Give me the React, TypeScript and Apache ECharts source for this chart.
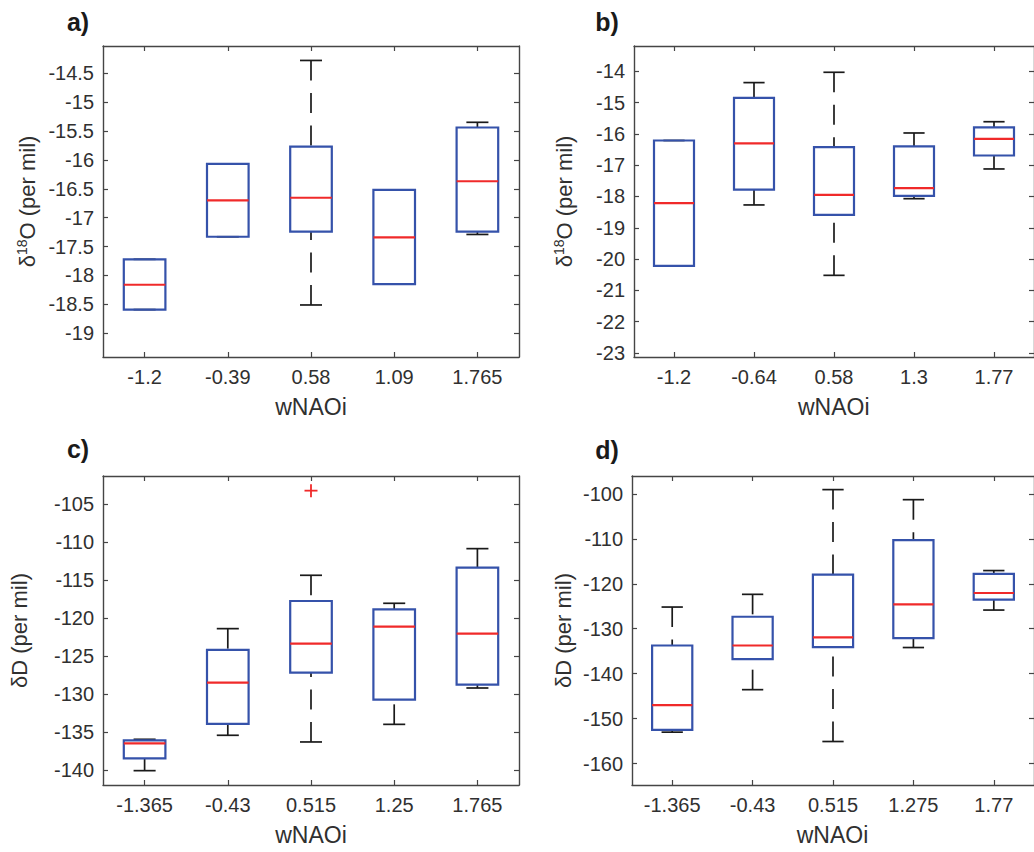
import React, { useEffect, useRef } from "react";
import * as echarts from "echarts";

// Category (x) labels per panel
const catsA = ["-1.2", "-0.39", "0.58", "1.09", "1.765"];
const catsB = ["-1.2", "-0.64", "0.58", "1.3", "1.77"];
const catsC = ["-1.365", "-0.43", "0.515", "1.25", "1.765"];
const catsD = ["-1.365", "-0.43", "0.515", "1.275", "1.77"];

// Box statistics: [lower whisker, q1, median, q3, upper whisker]
const statsA = [
  [-18.59, -18.59, -18.16, -17.72, -17.72],
  [-17.33, -17.33, -16.7, -16.07, -16.07],
  [-18.51, -17.24, -16.655, -15.77, -14.28],
  [-18.15, -18.15, -17.34, -16.52, -16.52],
  [-17.29, -17.24, -16.37, -15.44, -15.35],
];
const statsB = [
  [-20.22, -20.22, -18.21, -16.21, -16.21],
  [-18.27, -17.78, -16.3, -14.85, -14.36],
  [-20.52, -18.59, -17.95, -16.42, -14.03],
  [-18.07, -17.98, -17.73, -16.4, -15.97],
  [-17.12, -16.69, -16.16, -15.79, -15.61],
];
const statsC = [
  [-140.09, -138.47, -136.49, -136.09, -135.96],
  [-135.43, -133.94, -128.5, -124.19, -121.38],
  [-136.31, -127.18, -123.36, -117.74, -114.35],
  [-133.99, -130.74, -121.12, -118.83, -118.04],
  [-129.2, -128.76, -122.04, -113.34, -110.84],
];
const statsD = [
  [-153.02, -152.49, -146.98, -133.73, -125.17],
  [-143.56, -136.78, -133.73, -127.33, -122.34],
  [-155.1, -134.1, -131.94, -117.94, -99.03],
  [-134.18, -132.09, -124.57, -110.28, -101.27],
  [-125.84, -123.53, -122.04, -117.8, -117.05],
];
// Outliers: [category index, value]
const outliersC = [[2, -103.2]];

// Y tick values
const ticksA = [-19, -18.5, -18, -17.5, -17, -16.5, -16, -15.5, -15, -14.5];
const ticksB = [-23, -22, -21, -20, -19, -18, -17, -16, -15, -14];
const ticksC = [-140, -135, -130, -125, -120, -115, -110, -105];
const ticksD = [-160, -150, -140, -130, -120, -110, -100];

// Y ranges
const rangeA = [-19.41, -14.03];
const rangeB = [-23.13, -13.19];
const rangeC = [-141.98, -101.27];
const rangeD = [-164.78, -96.0];

const panelLabels = ["a)", "b)", "c)", "d)"];
const xTitle = "wNAOi";

const FONT = '"Liberation Sans", Arial, Helvetica, sans-serif';
const TXT = "#303030";
const AX = "#454545";
const BLUE = "#3552aa";
const RED = "#f02a2a";
const BLK = "#1a1a1a";

const grids = [
  { left: 103, top: 46, width: 416, height: 311 },
  { left: 634, top: 46, width: 403.5, height: 311 },
  { left: 103, top: 476, width: 416, height: 309 },
  { left: 632, top: 476, width: 405, height: 309 },
];

function boxRender(params: any, api: any) {
  const x = api.value(0);
  const lo = api.coord([x, api.value(1)]);
  const q1 = api.coord([x, api.value(2)]);
  const md = api.coord([x, api.value(3)]);
  const q3 = api.coord([x, api.value(4)]);
  const hi = api.coord([x, api.value(5)]);
  const band = api.size([1, 0])[0];
  const bw = band * 0.5;
  const cw = bw * 0.53;
  const cx = lo[0];
  const wStyle = { stroke: BLK, lineWidth: 1.7, lineDash: [20, 12.5], fill: null };
  const cStyle = { stroke: BLK, lineWidth: 1.7, fill: null };
  return {
    type: "group",
    children: [
      { type: "line", shape: { x1: cx, y1: hi[1], x2: cx, y2: q3[1] }, style: wStyle },
      { type: "line", shape: { x1: cx, y1: lo[1], x2: cx, y2: q1[1] }, style: wStyle },
      { type: "line", shape: { x1: cx - cw / 2, y1: hi[1], x2: cx + cw / 2, y2: hi[1] }, style: cStyle },
      { type: "line", shape: { x1: cx - cw / 2, y1: lo[1], x2: cx + cw / 2, y2: lo[1] }, style: cStyle },
      {
        type: "rect",
        shape: { x: cx - bw / 2, y: q3[1], width: bw, height: q1[1] - q3[1] },
        style: { stroke: BLUE, lineWidth: 2.2, fill: null },
      },
      { type: "line", shape: { x1: cx - bw / 2, y1: md[1], x2: cx + bw / 2, y2: md[1] }, style: { stroke: RED, lineWidth: 2.2 } },
    ],
  };
}

function outlierRender(params: any, api: any) {
  const p = api.coord([api.value(0), api.value(1)]);
  const h = 6.5;
  const st = { stroke: RED, lineWidth: 1.8 };
  return {
    type: "group",
    children: [
      { type: "line", shape: { x1: p[0] - h, y1: p[1], x2: p[0] + h, y2: p[1] }, style: st },
      { type: "line", shape: { x1: p[0], y1: p[1] - h, x2: p[0], y2: p[1] + h }, style: st },
    ],
  };
}

export default function App() {
  const ref = useRef<HTMLDivElement>(null);
  useEffect(() => {
    document.body.style.margin = "0";
    document.body.style.overflow = "hidden";
    if (!ref.current) return;
    const chart = echarts.init(ref.current, null, { renderer: "svg" });
    const cats = [catsA, catsB, catsC, catsD];
    const stats = [statsA, statsB, statsC, statsD];
    const ticks = [ticksA, ticksB, ticksC, ticksD];
    const ranges = [rangeA, rangeB, rangeC, rangeD];
    const yTitles = [
      { text: "{n|δ}{s|18}{n|O (per mil)}", x: 27 },
      { text: "{n|δ}{s|18}{n|O (per mil)}", x: 564 },
      { text: "{n|δD (per mil)}", x: 19 },
      { text: "{n|δD (per mil)}", x: 563 },
    ];
    const labelPos = [
      [78, 22],
      [607, 22],
      [78, 449],
      [607, 450],
    ];

    const axLine = { show: true, lineStyle: { color: AX, width: 1.4 } };
    const xAxes: any[] = [];
    const yAxes: any[] = [];
    const series: any[] = [];
    const graphics: any[] = [];
    for (let i = 0; i < 4; i++) {
      xAxes.push({
        type: "category",
        gridIndex: i,
        data: cats[i],
        boundaryGap: true,
        position: "bottom",
        axisLine: axLine,
        axisTick: { show: true, inside: true, alignWithLabel: true, length: 5, lineStyle: { color: AX, width: 1.2 } },
        axisLabel: { interval: 0, margin: 10, fontSize: 20, fontFamily: FONT, color: TXT },
        splitLine: { show: false },
      });
      xAxes.push({
        type: "category",
        gridIndex: i,
        data: cats[i],
        boundaryGap: true,
        position: "top",
        axisLine: axLine,
        axisTick: { show: true, inside: true, alignWithLabel: true, length: 5, lineStyle: { color: AX, width: 1.2 } },
        axisLabel: { show: false },
        splitLine: { show: false },
      });
      yAxes.push({
        type: "value",
        gridIndex: i,
        min: ranges[i][0],
        max: ranges[i][1],
        position: "left",
        axisLine: axLine,
        axisTick: { show: true, inside: true, length: 5, customValues: ticks[i], lineStyle: { color: AX, width: 1.2 } },
        axisLabel: { customValues: ticks[i], margin: 9, fontSize: 20, fontFamily: FONT, color: TXT, showMinLabel: true, showMaxLabel: true },
        splitLine: { show: false },
      });
      yAxes.push({
        type: "value",
        gridIndex: i,
        min: ranges[i][0],
        max: ranges[i][1],
        position: "right",
        axisLine: axLine,
        axisTick: { show: true, inside: true, length: 5, customValues: ticks[i], lineStyle: { color: AX, width: 1.2 } },
        axisLabel: { show: false },
        splitLine: { show: false },
      });
      series.push({
        type: "custom",
        xAxisIndex: i * 2,
        yAxisIndex: i * 2,
        renderItem: boxRender,
        data: stats[i].map((s, k) => [k, ...s]),
        z: 5,
      });
      const g = grids[i];
      graphics.push({
        type: "text",
        x: yTitles[i].x,
        y: g.top + g.height / 2,
        rotation: Math.PI / 2,
        style: {
          text: yTitles[i].text,
          align: "center",
          verticalAlign: "middle",
          fill: TXT,
          rich: {
            n: { fontSize: 22, fontFamily: FONT, lineHeight: 28, fill: TXT, color: TXT },
            s: { fontSize: 14, fontFamily: FONT, verticalAlign: "top", lineHeight: 28, fill: TXT, color: TXT, padding: [2, 0, 0, 0] },
          },
        },
      });
      graphics.push({
        type: "text",
        x: g.left + g.width / 2 - (i % 2 === 1 ? 2 : 0),
        y: g.top + g.height + 50,
        style: { text: xTitle, fontSize: 23, fontFamily: FONT, fill: TXT, align: "center", verticalAlign: "middle" },
      });
      graphics.push({
        type: "text",
        x: labelPos[i][0],
        y: labelPos[i][1],
        style: { text: panelLabels[i], fontSize: 25, fontWeight: "bold", fontFamily: FONT, fill: "#1a1a1a", align: "center", verticalAlign: "middle" },
      });
    }
    series.push({
      type: "custom",
      xAxisIndex: 4,
      yAxisIndex: 4,
      renderItem: outlierRender,
      data: outliersC,
      z: 6,
    });

    chart.setOption({
      animation: false,
      backgroundColor: "#ffffff",
      grid: grids,
      xAxis: xAxes,
      yAxis: yAxes,
      series,
      graphic: graphics,
    });
    return () => chart.dispose();
  }, []);
  return <div ref={ref} style={{ width: 1034, height: 852 }} />;
}
